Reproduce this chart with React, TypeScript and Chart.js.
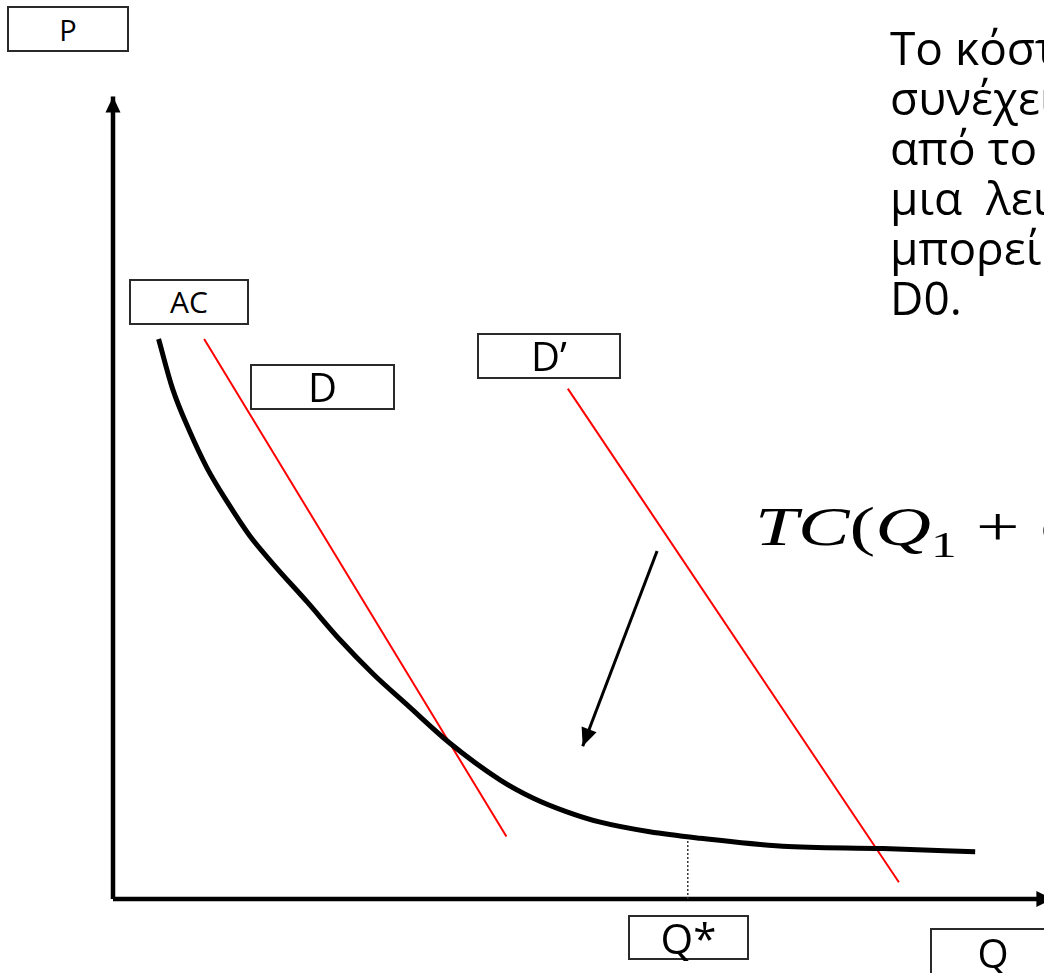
import React, { useEffect, useRef } from "react";
import { Chart, registerables } from "chart.js";

Chart.register(...registerables);

// ---- Data (Q = quantity, P = price / cost) ----
const acQ = [4.9, 6.4, 8.3, 10.1, 12.3, 14.7, 17.2, 20.9, 24.4, 28.0, 31.6, 36.2, 41.6, 45.2, 48.8, 52.4, 57.7, 63.1, 72.0, 82.8, 92.7];
const acP = [70.0, 63.8, 58.3, 53.9, 49.6, 45.4, 41.9, 37.1, 32.4, 28.1, 24.3, 19.5, 14.9, 12.6, 10.9, 9.6, 8.4, 7.6, 6.6, 6.3, 5.9];

const dQ = [9.8, 42.3];
const dP = [70.0, 7.8];

const dPrimeQ = [48.9, 84.5];
const dPrimeP = [63.8, 2.1];

const qStarQ = [61.8, 61.8];
const qStarP = [0, 7.4];

const shiftArrowQ = [58.5, 50.5];
const shiftArrowP = [43.5, 19.1];

const xAxisQ = [0, 101.0];
const xAxisP = [0, 0];
const yAxisQ = [0, 0];
const yAxisP = [0, 100.3];

const textLines = ["Το κόστος", "συνέχεια", "από το", "μια  λειτουργία", "μπορεί να", "D0."];

const X_MIN = -12.15;
const X_MAX = 100.1;
const Y_MIN = -9.25;
const Y_MAX = 112.375;

const pts = (xs: number[], ys: number[]) => xs.map((x, i) => ({ x, y: ys[i] }));

const arrowPlugin = {
  id: "arrowheads",
  afterDatasetsDraw(chart: any) {
    const ctx = chart.ctx;
    chart.data.datasets.forEach((ds: any, i: number) => {
      if (!ds.arrowHead) return;
      const meta = chart.getDatasetMeta(i);
      const el = meta.data;
      const a = el[el.length - 2];
      const b = el[el.length - 1];
      const ang = Math.atan2(b.y - a.y, b.x - a.x);
      const L = ds.arrowHead.length;
      const W = ds.arrowHead.width;
      const cx = b.x - L * Math.cos(ang);
      const cy = b.y - L * Math.sin(ang);
      const px = -Math.sin(ang);
      const py = Math.cos(ang);
      ctx.save();
      ctx.fillStyle = ds.borderColor;
      ctx.beginPath();
      ctx.moveTo(b.x, b.y);
      ctx.lineTo(cx + W * px, cy + W * py);
      ctx.lineTo(cx - W * px, cy - W * py);
      ctx.closePath();
      ctx.fill();
      ctx.restore();
    });
  },
};

const boxFont = "'Open Sans', 'Noto Sans', sans-serif";

function LabelBox(props: { left: number; top: number; width: number; height: number; size: number; text: string }) {
  const { left, top, width, height, size, text } = props;
  return (
    <div
      style={{
        position: "absolute",
        left,
        top,
        width,
        height,
        boxSizing: "border-box",
        border: "2px solid #2a2a2a",
        background: "#fff",
        display: "flex",
        alignItems: "center",
        justifyContent: "center",
        fontFamily: boxFont,
        fontSize: size,
        color: "#000",
        lineHeight: 1,
      }}
    >
      {text}
    </div>
  );
}

export default function App() {
  const canvasRef = useRef<HTMLCanvasElement | null>(null);

  useEffect(() => {
    const canvas = canvasRef.current;
    if (!canvas) return;
    const chart = new Chart(canvas, {
      type: "scatter",
      data: {
        datasets: [
          {
            label: "Q*",
            data: pts(qStarQ, qStarP),
            showLine: true,
            borderColor: "#333",
            borderWidth: 1.5,
            borderDash: [2, 2],
            pointRadius: 0,
          },
          {
            label: "AC",
            data: pts(acQ, acP),
            showLine: true,
            borderColor: "#000",
            borderWidth: 5,
            cubicInterpolationMode: "monotone",
            pointRadius: 0,
          },
          {
            label: "D",
            data: pts(dQ, dP),
            showLine: true,
            borderColor: "#ff0000",
            borderWidth: 2,
            pointRadius: 0,
          },
          {
            label: "D'",
            data: pts(dPrimeQ, dPrimeP),
            showLine: true,
            borderColor: "#ff0000",
            borderWidth: 2,
            pointRadius: 0,
          },
          {
            label: "shift",
            data: pts(shiftArrowQ, shiftArrowP),
            showLine: true,
            borderColor: "#000",
            borderWidth: 3,
            pointRadius: 0,
            arrowHead: { length: 18, width: 8 },
          } as any,
          {
            label: "Q axis",
            data: pts(xAxisQ, xAxisP),
            showLine: true,
            borderColor: "#000",
            borderWidth: 4.5,
            pointRadius: 0,
            arrowHead: { length: 16, width: 8 },
          } as any,
          {
            label: "P axis",
            data: pts(yAxisQ, yAxisP),
            showLine: true,
            borderColor: "#000",
            borderWidth: 4.5,
            pointRadius: 0,
            arrowHead: { length: 16, width: 7.5 },
          } as any,
        ],
      },
      options: {
        animation: false,
        responsive: false,
        maintainAspectRatio: false,
        layout: { padding: 0 },
        plugins: { legend: { display: false }, tooltip: { enabled: false } },
        scales: {
          x: { type: "linear", min: X_MIN, max: X_MAX, display: false },
          y: { type: "linear", min: Y_MIN, max: Y_MAX, display: false },
        },
      },
      plugins: [arrowPlugin],
    });
    return () => chart.destroy();
  }, []);

  return (
    <div
      style={{
        position: "absolute",
        left: 0,
        top: 0,
        width: 1044,
        height: 973,
        overflow: "hidden",
        background: "#fff",
      }}
    >
      <canvas ref={canvasRef} width={1044} height={973} style={{ position: "absolute", left: 0, top: 0 }} />

      <LabelBox left={7} top={6} width={122} height={46} size={29} text="P" />
      <LabelBox left={129} top={279} width={120} height={46} size={30} text="AC" />
      <LabelBox left={250} top={364} width={145} height={46} size={40} text="D" />
      <LabelBox left={477} top={333} width={144} height={46} size={40} text="D’" />
      <LabelBox left={628} top={915} width={121} height={45} size={42} text="Q*" />
      <LabelBox left={930} top={928} width={126} height={50} size={40} text="Q" />

      <div
        style={{
          position: "absolute",
          left: 890,
          top: 22,
          fontFamily: boxFont,
          fontSize: 46,
          lineHeight: "50px",
          color: "#000",
          whiteSpace: "pre",
        }}
      >
        {textLines.map((t, i) => (
          <div key={i}>{t}</div>
        ))}
      </div>

      <div
        style={{
          position: "absolute",
          left: 755,
          top: 500,
          fontFamily: "'Liberation Serif', 'Times New Roman', serif",
          fontSize: 54,
          lineHeight: "54px",
          color: "#000",
          whiteSpace: "pre",
          transform: "scaleX(1.43)",
          transformOrigin: "0 0",
        }}
      >
        <i>TC</i>
        <span>(</span>
        <i>Q</i>
        <span style={{ fontSize: 36, position: "relative", top: 12 }}>1</span>
        <span> + </span>
        <i>Q</i>
        <span style={{ fontSize: 36, position: "relative", top: 12 }}>2</span>
        <span>)</span>
      </div>
    </div>
  );
}
